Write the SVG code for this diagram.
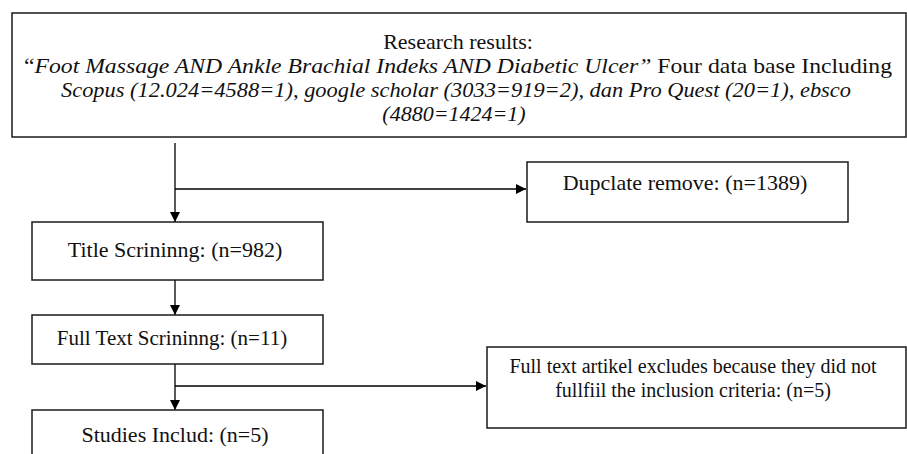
<svg xmlns="http://www.w3.org/2000/svg" width="907" height="454" viewBox="0 0 907 454">
<defs>
<marker id="ah" viewBox="0 0 10 10" refX="10" refY="5" markerWidth="10" markerHeight="10" markerUnits="userSpaceOnUse" orient="auto"><path d="M0,0 L10,5 L0,10 Z" fill="#000"/></marker>
<style>
.box{fill:#fff;stroke:#1a1a1a;stroke-width:1.5}
.t{font-family:"Liberation Serif","Times New Roman",serif;fill:#111;text-anchor:middle}
.i{font-style:italic}
.c{fill:none;stroke:#000;stroke-width:1.3}
</style>
</defs>
<rect width="907" height="454" fill="#fff"/>
<g id="connectors">
<line class="c" x1="175" y1="143" x2="175" y2="222" marker-end="url(#ah)"/>
<line class="c" x1="175" y1="189" x2="526" y2="189" marker-end="url(#ah)"/>
<line class="c" x1="175" y1="280" x2="175" y2="315" marker-end="url(#ah)"/>
<line class="c" x1="175" y1="364" x2="175" y2="410" marker-end="url(#ah)"/>
<line class="c" x1="175" y1="386" x2="486" y2="386" marker-end="url(#ah)"/>
</g>
<g id="research">
<rect class="box" x="12" y="13" width="894" height="124"/>
<text class="t" x="458" y="49" font-size="22">Research results:</text>
<text class="t" x="458" y="73" font-size="22" textLength="868" lengthAdjust="spacingAndGlyphs">“<tspan class="i">Foot Massage AND Ankle Brachial Indeks AND Diabetic Ulcer”</tspan> Four data base Including</text>
<text class="t i" x="456" y="97" font-size="22" textLength="790" lengthAdjust="spacingAndGlyphs">Scopus (12.024=4588=1), google scholar (3033=919=2), dan Pro Quest (20=1), ebsco</text>
<text class="t i" x="454" y="121" font-size="22">(4880=1424=1)</text>
</g>
<g id="duplicate">
<rect class="box" x="527" y="162" width="321" height="60"/>
<text class="t" x="685" y="190" font-size="22">Dupclate remove: (n=1389)</text>
</g>
<g id="title">
<rect class="box" x="32" y="222" width="291" height="58"/>
<text class="t" x="175" y="257" font-size="22">Title Scrininng: (n=982)</text>
</g>
<g id="fulltext">
<rect class="box" x="32" y="315" width="291" height="49"/>
<text class="t" x="172" y="345" font-size="21">Full Text Scrininng: (n=11)</text>
</g>
<g id="excluded">
<rect class="box" x="487" y="347" width="419" height="81"/>
<text class="t" x="693" y="373" font-size="20">Full text artikel excludes because they did not</text>
<text class="t" x="693" y="397" font-size="20">fullfiil the inclusion criteria: (n=5)</text>
</g>
<g id="studies">
<rect class="box" x="32" y="410" width="291" height="60"/>
<text class="t" x="175" y="442" font-size="22">Studies Includ: (n=5)</text>
</g>
</svg>
